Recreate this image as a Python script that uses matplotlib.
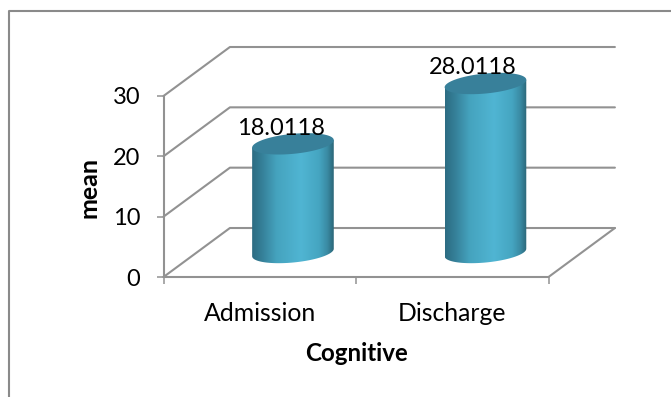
import matplotlib
matplotlib.use('Agg')
import matplotlib.pyplot as plt
from matplotlib.colors import LinearSegmentedColormap
from matplotlib.lines import Line2D
from matplotlib.patches import PathPatch, Polygon
from matplotlib.path import Path
import numpy as np

categories = ['Admission', 'Discharge']
means = [18.0118, 28.0118]
y_ticks = [0, 10, 20, 30]

GRID = '#929292'
TOP = '#38809a'
DEPTH_X = 0.345   # floor depth, in category widths
DEPTH_Y = 8.12    # floor depth, in value units
HALF_W = 0.212
RY = 1.66
TILT = 0.62

plt.rcParams['font.family'] = ['Lato', 'DejaVu Sans']

shade = LinearSegmentedColormap.from_list('cyl', [
    (0.00, '#2c6c82'), (0.12, '#357f98'), (0.30, '#45a3be'),
    (0.60, '#50b5d3'), (0.82, '#45a5c1'), (0.92, '#3a8ba4'),
    (1.00, '#2b6678'),
])

fig = plt.figure(figsize=(6.71, 3.97), dpi=100)
fig.add_artist(Line2D([8.5 / 671, 8.5 / 671, 1], [0, 1 - 10.5 / 397, 1 - 10.5 / 397],
                      color='#8a8a8a', lw=1.5))

# front plane of the 3D box: value 0 to 30 over the two categories
ax = fig.add_axes([163.5 / 671, 1 - 277 / 397, 385 / 671, 181 / 397])
ax.set_xlim(0, 2)
ax.set_ylim(0, 30)
ax.patch.set_visible(False)
for side in ax.spines.values():
    side.set_visible(False)


def box_line(xs, ys):
    ax.plot(xs, ys, color=GRID, lw=1.5, clip_on=False, zorder=1, solid_capstyle='round')


# walls and floor
for v in y_ticks:
    box_line([0, DEPTH_X, 2 + DEPTH_X], [v, v + DEPTH_Y, v + DEPTH_Y])
box_line([0, 0], [0, 30])
box_line([0, 2, 2 + DEPTH_X], [0, 0, DEPTH_Y])

ax.set_xticks([0, 1, 2], labels=[])
ax.set_yticks(y_ticks)
ax.tick_params(axis='y', length=5.2, width=1.1, color=GRID, labelsize=17, pad=11.5)
ax.tick_params(axis='x', length=5.2, width=1.1, color=GRID)

t = np.linspace(0, 2 * np.pi, 200)
for i, (name, val) in enumerate(zip(categories, means)):
    cx = i + 0.5 + DEPTH_X / 2
    base = DEPTH_Y / 2
    top = base + val

    # side of the cylinder: outline runs along the bottom rim then back over the top
    lower = np.linspace(np.pi, 2 * np.pi, 60)
    bx = cx + HALF_W * np.cos(lower)
    by = base - RY * np.abs(np.sin(lower)) + TILT * np.cos(lower)
    outline = np.vstack([np.c_[bx, by],
                         [cx + HALF_W, top + TILT],
                         [cx - HALF_W, top - TILT]])
    body = Polygon(outline, closed=True, transform=ax.transData, fc='none', ec='none')
    ax.add_patch(body)
    img = ax.imshow(np.linspace(0, 1, 256)[None, :], cmap=shade, aspect='auto',
                    extent=[cx - HALF_W, cx + HALF_W, base - 3, top + 3],
                    zorder=3)
    img.set_clip_box(fig.bbox)
    img.set_clip_path(body)

    # cap
    cap = np.c_[cx + HALF_W * np.cos(t), top + RY * np.sin(t) + TILT * np.cos(t)]
    ax.add_patch(PathPatch(Path(cap), fc=TOP, ec='none', zorder=4, clip_on=False))

    ax.annotate(f'{val:.4f}', (cx, top), xytext=(-9, 3.8), textcoords='offset points',
                ha='center', va='bottom', fontsize=17, color='black', zorder=5,
                annotation_clip=False)
    ax.text(i + 0.5, -6.0, name, ha='center', va='center', fontsize=17.8, color='black')

ax.set_xlim(0, 2)
ax.set_ylim(0, 30)

ax.text(1, -12.7, 'Cognitive', ha='center', va='center', fontsize=17.4, fontweight='bold')
fig.text(89 / 671, 1 - 187 / 397, 'mean', rotation=90, ha='center', va='center',
         fontsize=18, fontweight='bold')

fig.savefig('out.png', dpi=100)
